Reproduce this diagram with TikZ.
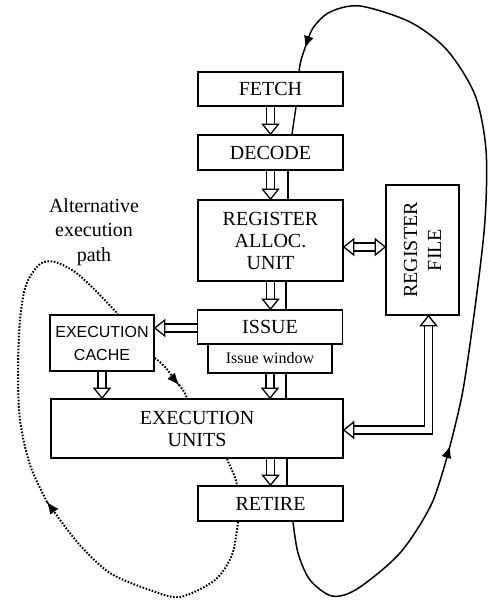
\documentclass[tikz,border=0pt]{standalone}
\usepackage{fontspec}
\setmainfont{Liberation Serif}
\newfontfamily\arialf{Liberation Sans}
\usetikzlibrary{arrows.meta,calc}
\begin{document}
\begin{tikzpicture}[x=1pt,y=1pt,
  box/.style={draw, line width=1.6pt, fill=white, inner sep=0pt, align=center,
    font=\fontsize{20}{22}\selectfont},
  shaft/.style={double, double distance=6.5pt, line width=1.3pt, line join=miter},
  thinl/.style={line width=1.4pt},
  loopl/.style={line width=1.5pt},
  dots/.style={line width=2pt, dash pattern=on 1.6pt off 1.6pt},
  soltip/.style={line width=1pt, -{Latex[length=12pt,width=10pt]}},
  hh/.pic={\draw[line width=1.3pt, fill=white, line join=miter] (0,0) -- (-10,8) -- (-10,-8) -- cycle;}
]
\useasboundingbox (0,0) rectangle (487,-601);

% boxes
\node[box, minimum width=145pt, minimum height=34pt] (fetch) at (270.5,-89) {FETCH};
\node[box, minimum width=145pt, minimum height=35pt] (decode) at (270.5,-152.5) {DECODE};
\node[box, minimum width=145pt, minimum height=81pt] (ralloc) at (270.5,-240.5) {REGISTER\\ALLOC.\\UNIT};
\node[box, minimum width=73pt, minimum height=130pt] (rfile) at (422.5,-250) {};
\node[rotate=90, align=center, inner sep=0pt, font=\fontsize{20}{24}\selectfont] (rftext) at (rfile) {REGISTER\\FILE};
\node[box, minimum width=145pt, minimum height=34pt] (issue) at (270,-327) {ISSUE};
\node[box, minimum width=124pt, minimum height=29pt, font=\fontsize{16}{18}\selectfont] (iwin) at (270,-358.5) {Issue window};
\node[box, minimum width=104pt, minimum height=56pt, font=\arialf\fontsize{16}{23}\selectfont] (cache) at (102,-343) {EXECUTION\\CACHE};
\node[box, minimum width=292pt, minimum height=59pt] (eu) at (197,-428.5) {EXECUTION\\UNITS};
\node[box, minimum width=145pt, minimum height=35pt] (retire) at (270.5,-503.5) {RETIRE};
\node[align=center, inner sep=0pt, font=\fontsize{20}{24.5}\selectfont] (alt) at (94,-232) {Alternative\\execution\\path};

% hollow vertical arrows
\draw[shaft, shorten >=8pt] (fetch.south) -- (fetch.south |- decode.north);
\pic[rotate=-90] at (fetch.south |- decode.north) {hh};
\draw[shaft, shorten >=8pt] (decode.south) -- (decode.south |- ralloc.north);
\pic[rotate=-90] at (decode.south |- ralloc.north) {hh};
\draw[shaft, shorten >=8pt] (ralloc.south) -- (ralloc.south |- issue.north);
\pic[rotate=-90] at (ralloc.south |- issue.north) {hh};
\draw[shaft, shorten >=8pt] (iwin.south) -- (iwin.south |- eu.north);
\pic[rotate=-90] at (iwin.south |- eu.north) {hh};
\draw[shaft, shorten >=8pt] (retire.north |- eu.south) -- (retire.north);
\pic[rotate=-90] at (retire.north) {hh};
\draw[shaft, shorten >=8pt] (cache.south) -- (cache.south |- eu.north);
\pic[rotate=-90] at (cache.south |- eu.north) {hh};

% issue -> cache
\coordinate (iw) at ($(issue.west)+(0,-1)$);
\draw[shaft, shorten >=8pt] (iw) -- (iw -| cache.east);
\pic[rotate=180] at (iw -| cache.east) {hh};

% register alloc <-> register file
\coordinate (ra) at ($(ralloc.east)+(0,-6.5)$);
\draw[shaft, shorten >=8pt, shorten <=8pt] (ra) -- (ra -| rfile.west);
\pic at (ra -| rfile.west) {hh};
\pic[rotate=180] at (ra) {hh};

% register file <-> execution units
\coordinate (rfb) at ($(rfile.south)+(6,0)$);
\coordinate (eur) at ($(eu.east)+(0,-1.5)$);
\draw[shaft, shorten >=8pt, shorten <=8pt] (eur) -- (eur -| rfb) -- (rfb);
\pic[rotate=180] at (eur) {hh};
\pic[rotate=90] at (rfb) {hh};

% thin pass-through line
\draw[thinl] ($(fetch.south)+(25.5,0)$) -- ($(decode.north)+(21.5,0)$);
\draw[thinl] ($(decode.south)+(17.5,0)$) -- ($(ralloc.north)+(17.5,0)$);
\draw[thinl] ($(ralloc.south)+(15.5,0)$) -- ($(issue.north)+(16,0)$);
\draw[thinl] ($(iwin.south)+(16,0)$) -- ($(eu.north)+(89,0)$);
\draw[thinl] ($(eu.south)+(90,0)$) -- ($(retire.north)+(16.5,0)$);

% solid feedback loop
\coordinate (ls) at ($(retire.south)+(22.5,0)$);
\coordinate (la) at (450,-446);
\coordinate (lb) at (305,-48);
\coordinate (lf) at ($(fetch.north)+(28.5,0)$);
\draw[loopl] plot[smooth] coordinates {(ls) (298,-553) (310,-580) (332,-596) (357,-589) (400,-553) (432,-503) (la)};
\draw[soltip] ($(la)+(-3,-9.6)$) -- (la);
\draw[loopl] plot[smooth] coordinates {(la) (463,-390) (476,-300) (485,-220) (486,-150) (475,-95) (447,-50) (410,-22) (360,-6) (330,-12) (313,-28) (lb)};
\draw[soltip] ($(lb)+(3,9)$) -- (lb);
\draw[loopl] plot[smooth] coordinates {(lb) (301,-60) (lf)};

% dotted alternative path
\coordinate (da) at (47,-502);
\coordinate (db) at (179,-385);
\draw[dots] ($(eu.south)+(30,0)$) to[out=-70,in=100] ($(retire.north)+(-33.5,0)$);
\draw[dots] plot[smooth] coordinates {($(retire.south)+(-32.5,0)$) (232,-555) (215,-580) (180,-597) (150,-590) (110,-573) (78,-543) (da)};
\draw[soltip] ($(da)+(6,-8)$) -- (da);
\draw[dots] plot[smooth] coordinates {(da) (30,-465) (20,-420) (18,-370) (20,-320) (26,-285) (40,-264) (55,-262) (75,-272) (95,-290) ($(cache.north)+(16,0)$)};
\draw[dots] ($(cache.east)+(0,-15)$) to[out=-35,in=130] (db);
\draw[soltip] ($(db)+(-6,7)$) -- (db);
\draw[dots] (db) to[out=-50,in=110] ($(eu.north)+(-10,0)$);
\end{tikzpicture}
\end{document}
